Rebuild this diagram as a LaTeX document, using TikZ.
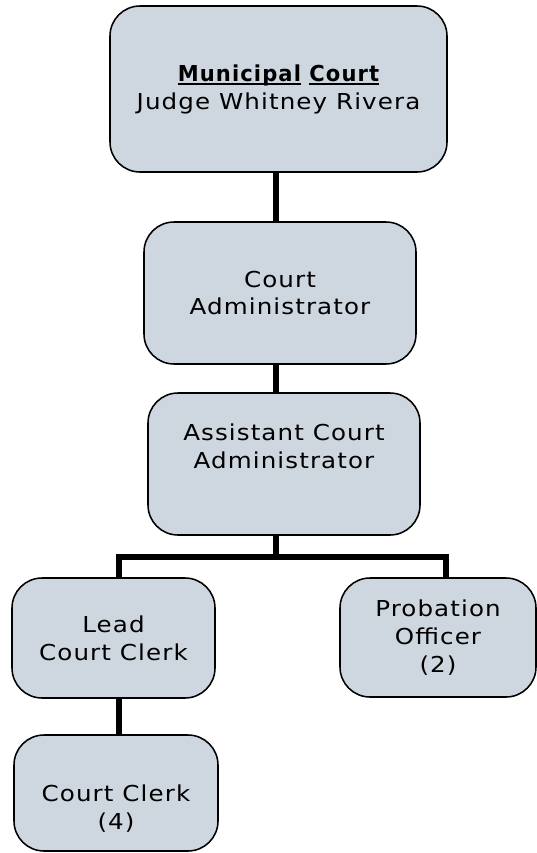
\documentclass[tikz,border=0pt]{standalone}
\usepackage{fontspec}
\setmainfont{DejaVu Sans}[FakeStretch=1.12,LetterSpace=5,BoldFeatures={FakeStretch=0.96}]
\definecolor{boxfill}{RGB}{206,214,224}
\newcommand\ulword[1]{\setbox0=\hbox{#1}\rlap{\rule[-0.11cm]{\wd0}{0.06cm}}\box0\relax}

\begin{document}
\begin{tikzpicture}[line width=1.1pt,
    box/.style={draw,fill=boxfill,rounded corners=0.75cm,align=center,inner sep=0pt,
      font=\fontsize{15.6pt}{19.9pt}\selectfont},
    link/.style={line width=4.4pt}]
    \useasboundingbox (0,0) rectangle (13.425,-21.325);
    \node[box,minimum width=8.425cm,minimum height=4.15cm] (court) at (6.9625,-2.225)
      {\textbf{\ulword{Municipal} \ulword{Court}}\\Judge Whitney Rivera};
    \node[box,minimum width=6.8cm,minimum height=3.55cm] (admin) at (7.0,-7.325)
      {Court\\Administrator};
    \node[box,minimum width=6.8cm,minimum height=3.55cm] (assist) at (7.1,-11.6)
      {Assistant Court\\Administrator\\\strut};
    \node[box,minimum width=5.075cm,minimum height=3.0cm] (lead) at (2.8375,-15.95)
      {Lead\\Court Clerk};
    \node[box,minimum width=4.9cm,minimum height=2.975cm] (prob) at (10.95,-15.9375)
      {Probation\\Officer\\(2)};
    \node[box,minimum width=5.1cm,minimum height=2.9cm] (clerk) at (2.9,-19.825)
      {\strut\\Court Clerk\\(4)};
    \coordinate (trunk) at (6.9,0);
    \coordinate (bar) at (0,-13.925);
    \coordinate (leadx) at (2.975,0);
    \coordinate (probx) at (11.15,0);
    \draw[link] (court.south -| trunk) -- (admin.north -| trunk);
    \draw[link] (admin.south -| trunk) -- (assist.north -| trunk);
    \draw[link] (assist.south -| trunk) -- (bar -| trunk);
    \draw[link] (lead.north -| leadx) |- (bar -| trunk) -| (prob.north -| probx);
    \draw[link] (lead.south -| leadx) -- (clerk.north -| leadx);
\end{tikzpicture}
\end{document}
